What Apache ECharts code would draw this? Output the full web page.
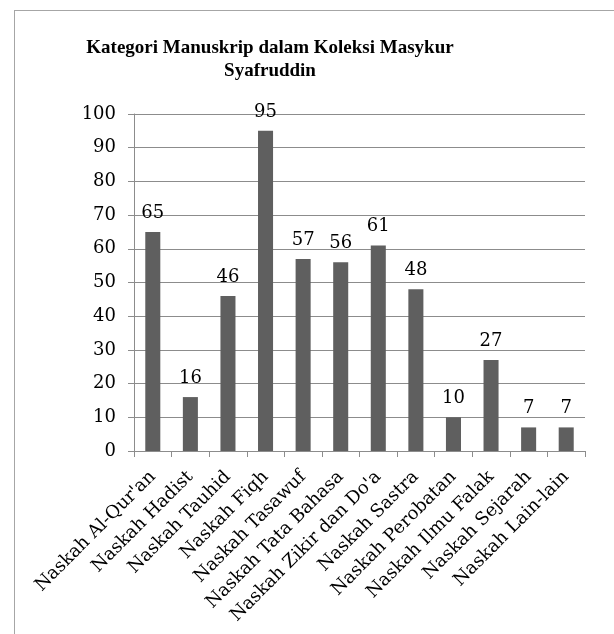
<!DOCTYPE html>
<html><head><meta charset="utf-8">
<script src="https://cdn.jsdelivr.net/npm/echarts@6/dist/echarts.min.js"></script>
<style>html,body{margin:0;padding:0;background:#fff}#c{width:614px;height:634px}</style>
</head><body><div id="c"></div>
<script>
const categories = ["Naskah Al-Qur'an","Naskah Hadist","Naskah Tauhid","Naskah Fiqh","Naskah Tasawuf","Naskah Tata Bahasa","Naskah Zikir dan Do'a","Naskah Sastra","Naskah Perobatan","Naskah Ilmu Falak","Naskah Sejarah","Naskah Lain-lain"];
const values = [65,16,46,95,57,56,61,48,10,27,7,7];
const titleText = "Kategori Manuskrip dalam Koleksi Masykur\nSyafruddin";
const font = "'DejaVu Serif', 'Liberation Serif', serif";
const titleFont = "'Liberation Serif', serif";
const chart = echarts.init(document.getElementById('c'), null, {renderer:'canvas'});
chart.setOption({
  animation:false,
  title:{text:titleText,left:265,top:32,textAlign:'center',
    textStyle:{fontFamily:titleFont,fontWeight:'bold',fontSize:19,color:'#000',lineHeight:23}},
  graphic:[
    {type:'line',shape:{x1:14,y1:10.5,x2:614,y2:10.5},style:{stroke:'#a6a6a6',lineWidth:1},silent:true},
    {type:'line',shape:{x1:14.5,y1:10,x2:14.5,y2:634},style:{stroke:'#a6a6a6',lineWidth:1},silent:true}
  ],
  grid:{left:134,right:29,top:114,bottom:183,containLabel:false},
  xAxis:{type:'category',data:categories,
    axisLine:{lineStyle:{color:'#8c8c8c'}},
    axisTick:{show:true,length:6,alignWithLabel:false,lineStyle:{color:'#8c8c8c'}},
    axisLabel:{rotate:45,interval:0,fontFamily:font,fontSize:18,color:'#000',margin:23}},
  yAxis:{type:'value',min:0,max:100,interval:10,
    axisLine:{show:true,lineStyle:{color:'#8c8c8c'}},
    axisTick:{show:true,length:6,lineStyle:{color:'#8c8c8c'}},
    splitLine:{lineStyle:{color:'#8c8c8c'}},
    axisLabel:{fontFamily:font,fontSize:18,color:'#000',margin:18}},
  series:[{type:'bar',data:values,barWidth:'40%',
    itemStyle:{color:'#5f5f5f'},
    label:{show:true,position:'top',distance:10,fontFamily:font,fontSize:18,color:'#000'}}]
});
</script></body></html>
